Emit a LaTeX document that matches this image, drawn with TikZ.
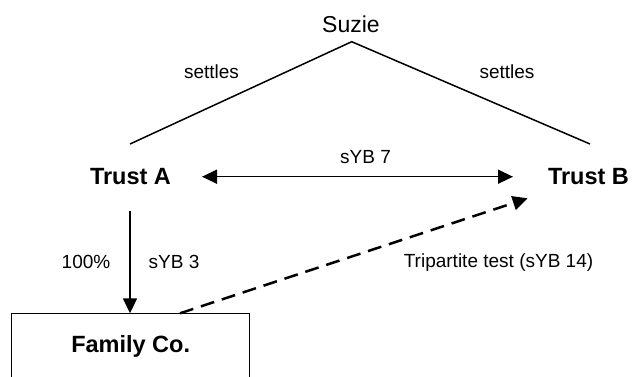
\documentclass[tikz,border=0pt]{standalone}
\usepackage{fontspec}
\setmainfont{Liberation Sans}
\usetikzlibrary{arrows.meta}
\begin{document}
\begin{tikzpicture}[x=1pt,y=-1pt,
  lbl/.style={font=\fontsize{19}{22}\selectfont, inner sep=0pt},
  ent/.style={font=\fontsize{23.5}{27}\bfseries, inner sep=0pt},
  rel/.style={line width=1.5pt},
  tip/.style={-{Triangle[length=15pt,width=14pt]}},
  dtip/.style={{Triangle[length=15pt,width=14pt]}-{Triangle[length=15pt,width=14pt]}}]
\useasboundingbox (0,0) rectangle (632,376);
\clip (0,0) rectangle (632,376);
% nodes
\node[inner sep=0pt, font=\fontsize{23}{27}\selectfont] (suzie) at (351,24) {Suzie};
\node[ent] (trustA) at (130.5,176.5) {Trust A};
\node[ent] (trustB) at (588.5,176.5) {Trust B};
\node[draw, line width=1pt, anchor=north, minimum width=238pt, inner sep=0pt,
      text height=38.7pt, text depth=40pt, font=\fontsize{23.5}{27}\bfseries]
      (fam) at (130.7,313.3) {Family Co.};
% connector endpoints
\coordinate (apex) at (351.7,41.7);
\coordinate (aTop) at (130,144);
\coordinate (bTop) at (590,144);
\coordinate (aR) at (202,176.7);
\coordinate (bL) at (513,176.7);
\coordinate (aBot) at (130,210.7);
\coordinate (famTop) at (130,313.3);
\coordinate (famDash) at (180,313.3);
\coordinate (bLow) at (527.7,198.3);
% connectors
\draw[rel] (aTop) -- (apex) -- (bTop);
\draw[rel,dtip] (aR) -- (bL);
\draw[rel,tip] (aBot) -- (famTop);
\draw[line width=2.5pt, dash pattern=on 14pt off 8pt, tip] (famDash) -- (bLow);
% labels
\node[lbl] at (211.5,72) {settles};
\node[lbl] at (507,72) {settles};
\node[lbl] at (365.5,157.5) {sYB 7};
\node[lbl] at (86,262) {100\%};
\node[lbl] at (174,262) {sYB 3};
\node[lbl] at (498.5,262.5) {Tripartite test (sYB 14)};
\end{tikzpicture}
\end{document}
